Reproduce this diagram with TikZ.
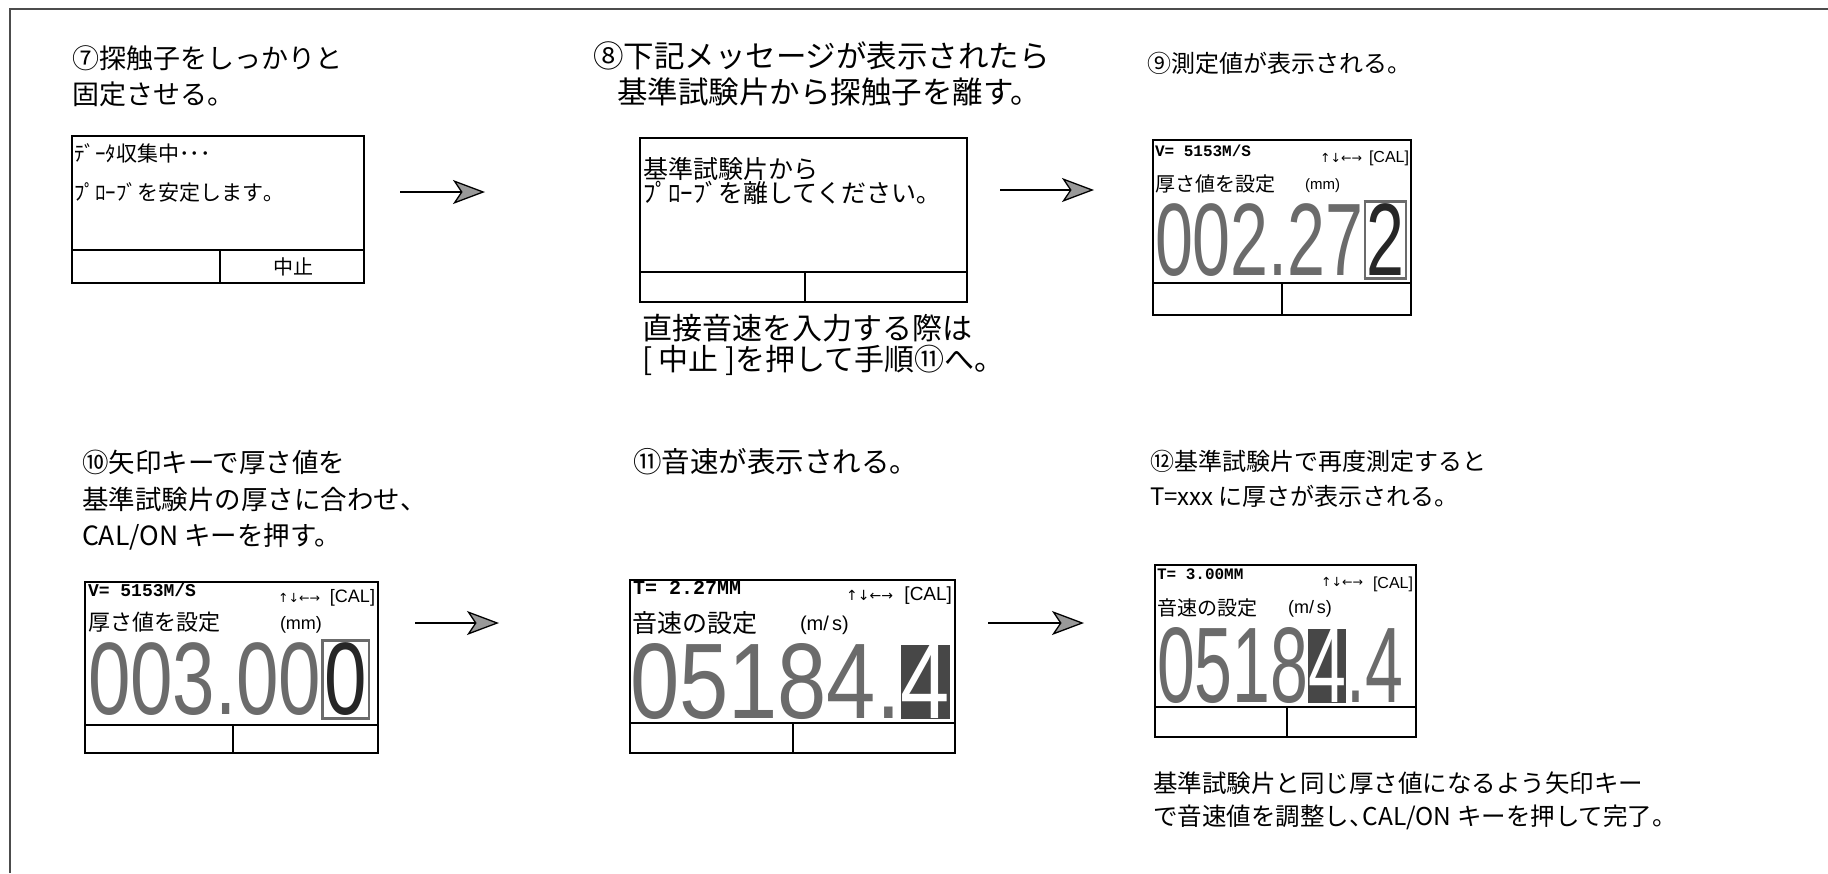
\documentclass[tikz,border=0pt]{standalone}
\usepackage{fontspec}
\usepackage{graphicx}
\setmainfont{Noto Sans CJK JP}
\newfontfamily\jp{Noto Sans CJK JP}
\newfontfamily\lcd{Liberation Sans}
\newfontfamily\mono{Liberation Mono}
\newfontfamily\sym{DejaVu Sans}
\usetikzlibrary{arrows.meta,calc}
\newcommand\curinv[1]{{\setlength\fboxsep{0pt}\colorbox{black!72}{\textcolor{white}{#1}}}}
\newcommand\curframe[1]{{\setlength\fboxsep{1pt}\setlength\fboxrule{3pt}\fbox{\textcolor{black!85}{#1}}}}
\newcommand\bigfont{\lcd\fontsize{100}{100}\selectfont}
\begin{document}
\begin{tikzpicture}[x=1pt,y=-1pt,
  every node/.style={inner sep=0pt, outer sep=0pt},
  ttl/.style={anchor=base west, font=\jp\fontsize{27}{30}\selectfont},
  scr/.style={draw=black, line width=2pt, anchor=north west},
  scrline/.style={line width=1.6pt},
  flow/.style={line width=1.3pt, -{Stealth[length=32pt,width=24pt,inset=8pt,fill=black!40]}},
  frameline/.style={line width=2.5pt, draw=black!70},
  msg/.style={anchor=base west},
  lcdtop/.style={anchor=base west, font=\mono\bfseries\fontsize{16}{16}\selectfont},
  keys/.style={anchor=base east, font=\sym\fontsize{12.5}{12.5}\selectfont},
  calbox/.style={anchor=base east, font=\lcd\fontsize{16}{16}\selectfont},
  unit/.style={anchor=base west, font=\lcd\fontsize{16}{16}\selectfont},
  digits/.style={anchor=south west, text=black!58},
]
\fill[white] (0,0) rectangle (1828,873);
\useasboundingbox (0,0) rectangle (1828,873);
% outer frame
\draw[frameline] (10,873) -- (10,9) -- (1828,9);

% ---------- titles ----------
\node[ttl] (t7a) at (72,68) {⑦探触子をしっかりと};
\node[ttl] (t7b) at (72,104) {固定させる。};
\node[ttl, font=\jp\fontsize{30.5}{32}\selectfont] (t8a) at (593,67) {⑧下記メッセージが表示されたら};
\node[ttl, font=\jp\fontsize{30.5}{32}\selectfont] (t8b) at (617,103) {基準試験片から探触子を離す。};
\node[ttl, font=\jp\fontsize{24}{26}\selectfont] (t9) at (1147,72) {⑨測定値が表示される。};
\node[ttl, font=\jp\fontsize{30}{32}\selectfont] (n8a) at (642,339) {直接音速を入力する際は};
\node[ttl, font=\jp\fontsize{30}{32}\selectfont] (n8b) at (642,370) {[ 中止 ]を押して手順⑪へ。};
\node[ttl, font=\jp\fontsize{26.5}{28}\selectfont] (t10a) at (82,472) {⑩矢印キーで厚さ値を};
\node[ttl, font=\jp\fontsize{26.5}{28}\selectfont] (t10b) at (82,509) {基準試験片の厚さに合わせ、};
\node[ttl, font=\jp\fontsize{26.5}{28}\selectfont] (t10c) at (82,545) {CAL/ON キーを押す。};
\node[ttl, font=\jp\fontsize{28.5}{30}\selectfont] (t11) at (633,472) {⑪音速が表示される。};
\node[ttl, font=\jp\fontsize{24}{26}\selectfont] (t12a) at (1150,470) {⑫基準試験片で再度測定すると};
\node[ttl, font=\jp\fontsize{24}{26}\selectfont] (t12b) at (1150,505) {T=xxx に厚さが表示される。};
\node[ttl, font=\jp\fontsize{24.5}{26}\selectfont] (n12a) at (1153,792) {基準試験片と同じ厚さ値になるよう矢印キー};
\node[ttl, font=\jp\fontsize{24.5}{26}\selectfont] (n12b) at (1153,825) {で音速値を調整し、\kern-0.45em CAL/ON キーを押して完了。};

% ---------- screen 7 ----------
\node[scr, minimum width=292pt, minimum height=147pt] (s7) at (72,136) {};
\draw[scrline] (72,250) -- (364,250);
\draw[scrline] (220,250) -- (220,283);
\node[msg, font=\jp\fontsize{21}{21}\selectfont] (m7a) at (74,161) {ﾃﾞｰﾀ収集中･･･};
\node[msg, font=\jp\fontsize{21}{21}\selectfont] (m7b) at (74,200) {ﾌﾟﾛｰﾌﾞを安定します｡};
\node[font=\jp\fontsize{20}{20}\selectfont] (m7c) at (293,267) {中止};

% ---------- screen 8 ----------
\node[scr, minimum width=327pt, minimum height=164pt] (s8) at (640,138) {};
\draw[scrline] (640,272) -- (967,272);
\draw[scrline] (805,272) -- (805,302);
\node[msg, font=\jp\fontsize{25}{25}\selectfont] (m8a) at (643,178) {基準試験片から};
\node[msg, font=\jp\fontsize{25}{25}\selectfont] (m8b) at (643,202) {ﾌﾟﾛｰﾌﾞを離してください｡};

% ---------- screen 9 ----------
\node[scr, minimum width=258pt, minimum height=175pt] (s9) at (1153,140) {};
\draw[scrline] (1153,283) -- (1411,283);
\draw[scrline] (1282,283) -- (1282,315);
\node[lcdtop] (v9) at (1155,156) {V= 5153M/S};
\node[keys] (k9) at (1362,162) {↑↓←→};
\node[calbox] (c9) at (1409,162) {[CAL]};
\node[msg, font=\jp\fontsize{20}{20}\selectfont] (l9) at (1155,191) {厚さ値を設定};
\node[unit, font=\lcd\fontsize{15}{15}\selectfont] (u9) at (1305,189) {(mm)};
\node[digits] (d9) at (1155,280) {\resizebox{252pt}{76pt}{\bigfont 002.27\curframe{2}}};

% ---------- screen 10 ----------
\node[scr, minimum width=293pt, minimum height=171pt] (s10) at (85,582) {};
\draw[scrline] (85,725) -- (378,725);
\draw[scrline] (233,725) -- (233,753);
\node[lcdtop, font=\mono\bfseries\fontsize{18}{18}\selectfont] (v10) at (88,596) {V= 5153M/S};
\node[keys] (k10) at (320,602) {↑↓←→};
\node[calbox, font=\lcd\fontsize{18}{18}\selectfont] (c10) at (375,602) {[CAL]};
\node[msg, font=\jp\fontsize{22}{22}\selectfont] (l10) at (88,630) {厚さ値を設定};
\node[unit, font=\lcd\fontsize{18}{18}\selectfont] (u10) at (280,629) {(mm)};
\node[digits] (d10) at (88,720) {\resizebox{282pt}{76pt}{\bigfont 003.00\curframe{0}}};

% ---------- screen 11 ----------
\node[scr, minimum width=325pt, minimum height=173pt] (s11) at (630,580) {};
\draw[scrline] (630,723) -- (955,723);
\draw[scrline] (793,723) -- (793,753);
\node[lcdtop, font=\mono\bfseries\fontsize{20}{20}\selectfont] (v11) at (633,594) {T=  2.27MM};
\node[keys, font=\sym\fontsize{14}{14}\selectfont] (k11) at (893,600) {↑↓←→};
\node[calbox, font=\lcd\fontsize{19}{19}\selectfont] (c11) at (952,600) {[CAL]};
\node[msg, font=\jp\fontsize{25}{25}\selectfont] (l11) at (632,632) {音速の設定};
\node[unit, font=\lcd\fontsize{20}{20}\selectfont] (u11) at (800,630) {(m/\,s)};
\node[digits] (d11) at (630,720) {\resizebox{320pt}{75pt}{\bigfont 05184.\curinv{4}}};

% ---------- screen 12 ----------
\node[scr, minimum width=261pt, minimum height=172pt] (s12) at (1155,565) {};
\draw[scrline] (1155,707) -- (1416,707);
\draw[scrline] (1287,707) -- (1287,737);
\node[lcdtop] (v12) at (1157,579) {T=  3.00MM};
\node[keys] (k12) at (1363,586) {↑↓←→};
\node[calbox] (c12) at (1413,588) {[CAL]};
\node[msg, font=\jp\fontsize{20}{20}\selectfont] (l12) at (1157,615) {音速の設定};
\node[unit, font=\lcd\fontsize{18}{18}\selectfont] (u12) at (1288,613) {(m/\,s)};
\node[digits] (d12) at (1157,704) {\resizebox{246pt}{75pt}{\bigfont 0518\curinv{4}.4}};

% ---------- arrows ----------
\coordinate (a1s) at (400,192); \coordinate (a1e) at (485,192);
\coordinate (a2s) at (1000,190); \coordinate (a2e) at (1094,190);
\coordinate (a3s) at (415,623); \coordinate (a3e) at (499,623);
\coordinate (a4s) at (988,623); \coordinate (a4e) at (1084,623);
\draw[flow] (a1s) -- (a1e);
\draw[flow] (a2s) -- (a2e);
\draw[flow] (a3s) -- (a3e);
\draw[flow] (a4s) -- (a4e);
\end{tikzpicture}
\end{document}
